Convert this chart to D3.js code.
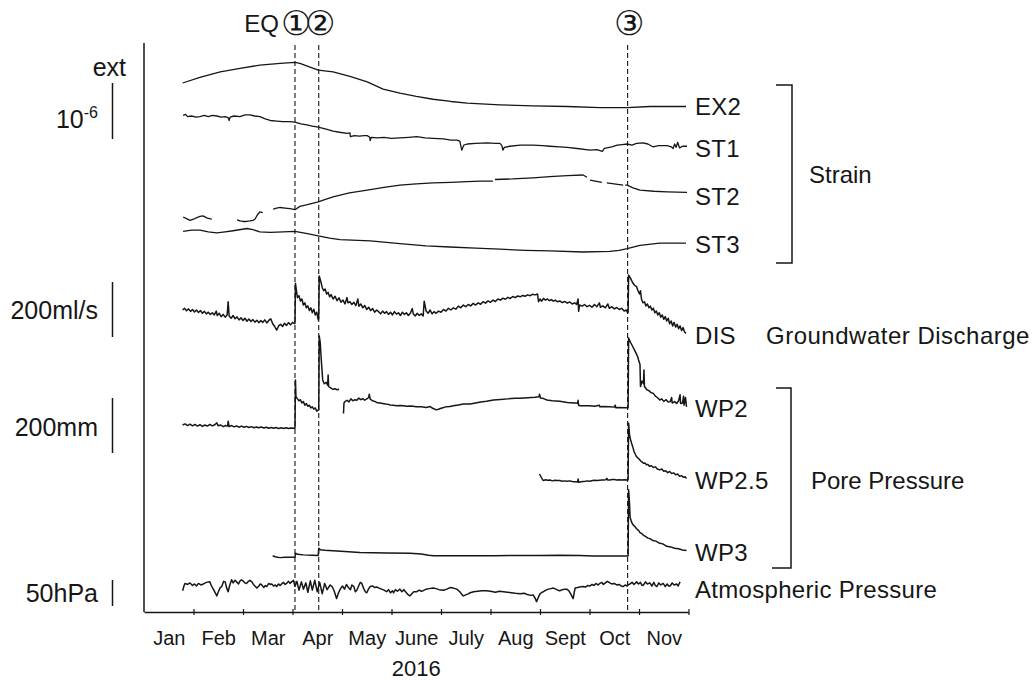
<!DOCTYPE html>
<html>
<head>
<meta charset="utf-8">
<script src="https://cdn.jsdelivr.net/npm/d3@7"></script>
<style>
  body { margin: 0; background: #fff; }
  text { font-family: "Liberation Sans", Arial, sans-serif; fill: #161616; }
</style>
</head>
<body>
<div id="chart"></div>
<script>
// x values: months since 1 Jan 2016 (0 = Jan 1, 11 = Dec 1)
const months = ["Jan", "Feb", "Mar", "Apr", "May", "June", "July", "Aug", "Sept", "Oct", "Nov"];
const events = [{ label: "①", m: 3.05 }, { label: "②", m: 3.53 }, { label: "③", m: 9.77 }];

// strain, in 10^-6, relative to first reading
const ex2 = [[0.78,0],[1.13,0.10],[1.54,0.20],[1.94,0.26],[2.34,0.32],[2.75,0.35],[3.05,0.37],[3.15,0.35],[3.52,0.23],[3.82,0.20],[4.16,0.12],[4.51,0.02],[4.83,-0.11],[5.17,-0.18],[5.50,-0.24],[5.84,-0.29],[6.20,-0.33],[6.53,-0.36],[7.19,-0.39],[7.86,-0.41],[8.55,-0.42],[9.21,-0.44],[9.76,-0.44],[10.22,-0.42],[10.95,-0.42]];

const st1 = [[0.79,0.01],[0.84,0.03],[0.88,-0.01],[0.96,0.00],[1.05,-0.02],[1.13,-0.01],[1.22,0.01],[1.30,-0.01],[1.38,0.01],[1.47,0.00],[1.56,-0.02],[1.64,-0.01],[1.70,-0.03],[1.72,-0.08],[1.74,-0.02],[1.82,0.00],[1.94,-0.01],[2.04,0.02],[2.14,0.02],[2.24,0.00],[2.34,-0.01],[2.45,-0.05],[2.55,-0.08],[2.68,-0.09],[2.81,-0.10],[2.93,-0.10],[3.05,-0.11],[3.17,-0.14],[3.29,-0.16],[3.40,-0.18],[3.52,-0.20],[3.66,-0.23],[3.82,-0.27],[3.95,-0.29],[4.10,-0.31],[4.16,-0.30],[4.17,-0.37],[4.25,-0.35],[4.35,-0.36],[4.45,-0.35],[4.51,-0.35],[4.56,-0.38],[4.57,-0.44],[4.59,-0.38],[4.71,-0.39],[4.85,-0.38],[5.00,-0.40],[5.17,-0.39],[5.35,-0.38],[5.51,-0.37],[5.68,-0.39],[5.84,-0.40],[6.05,-0.41],[6.20,-0.43],[6.32,-0.43],[6.38,-0.45],[6.42,-0.61],[6.46,-0.52],[6.53,-0.50],[6.70,-0.49],[6.93,-0.48],[7.10,-0.49],[7.19,-0.49],[7.23,-0.53],[7.25,-0.61],[7.28,-0.56],[7.39,-0.54],[7.60,-0.52],[7.86,-0.52],[8.05,-0.53],[8.20,-0.54],[8.40,-0.55],[8.55,-0.56],[8.75,-0.58],[9.01,-0.61],[9.15,-0.60],[9.26,-0.63],[9.30,-0.58],[9.45,-0.55],[9.56,-0.52],[9.66,-0.51],[9.76,-0.50],[9.86,-0.52],[9.95,-0.49],[10.08,-0.48],[10.18,-0.50],[10.28,-0.55],[10.40,-0.53],[10.57,-0.53],[10.65,-0.55],[10.69,-0.58],[10.72,-0.50],[10.75,-0.56],[10.78,-0.47],[10.82,-0.57],[10.88,-0.54],[10.97,-0.54]];

// null = gap in the record
const st2 = [[0.79,0],[0.86,-0.03],[0.93,-0.06],[1.00,-0.04],[1.07,-0.01],[1.13,0.01],[1.19,0.02],[1.28,-0.02],[1.37,-0.04], null,
  [1.88,-0.05],[1.94,-0.07],[2.00,-0.08],[2.07,-0.08],[2.14,-0.07],[2.20,-0.06],[2.24,-0.04],[2.30,0.05],[2.34,0.09],[2.40,0.08], null,
  [2.61,0.14],[2.68,0.16],[2.75,0.17],[2.85,0.16],[2.95,0.15],[3.05,0.13],[3.15,0.19],[3.30,0.22],[3.52,0.27],[3.65,0.31],[3.82,0.36],[4.15,0.43],[4.51,0.48],[4.85,0.53],[5.17,0.57],[5.50,0.59],[5.84,0.61],[6.20,0.62],[6.53,0.63],[6.80,0.64],[7.05,0.64], null,
  [7.09,0.67],[7.45,0.68],[7.86,0.70],[8.20,0.72],[8.55,0.74],[8.87,0.75],[8.95,0.71], null,
  [9.01,0.66],[9.25,0.62], null,
  [9.35,0.61],[9.68,0.57], null,
  [9.72,0.57],[9.76,0.57],[9.88,0.52],[10.02,0.48],[10.30,0.46],[10.57,0.45],[10.97,0.44]];

const st3 = [[0.79,0],[0.96,0.02],[1.13,0.02],[1.30,-0.01],[1.47,-0.03],[1.64,-0.01],[1.80,0.01],[2.08,0.05],[2.20,0.03],[2.34,-0.01],[2.55,-0.02],[2.81,-0.01],[3.05,0],[3.30,-0.04],[3.52,-0.08],[3.75,-0.12],[3.96,-0.15],[4.57,-0.17],[5.17,-0.22],[5.70,-0.26],[6.18,-0.28],[6.70,-0.30],[7.19,-0.32],[7.70,-0.34],[8.20,-0.35],[8.87,-0.37],[9.41,-0.36],[9.60,-0.34],[9.76,-0.31],[10.02,-0.25],[10.42,-0.21],[10.95,-0.21]];

// groundwater discharge, ml/s, relative to first reading
const dis = [[0.78,0],[0.82,6],[0.86,-3],[0.90,4],[0.94,-5],[0.98,2],[1.02,-7],[1.06,0],[1.10,-9],[1.14,-2],[1.18,-12],[1.22,-5],[1.26,-14],[1.30,-8],[1.34,-16],[1.38,-10],[1.42,-18],[1.46,-4],[1.48,-20],[1.52,-12],[1.56,-24],[1.60,-16],[1.64,-26],[1.68,-18],[1.70,30],[1.72,-22],[1.76,-30],[1.80,-20],[1.84,-32],[1.88,-25],[1.92,-36],[1.96,-28],[2.00,-38],[2.04,-30],[2.08,-41],[2.12,-33],[2.16,-42],[2.20,-35],[2.24,-44],[2.28,-37],[2.32,-46],[2.36,-38],[2.40,-45],[2.44,-36],[2.48,-47],[2.52,-38],[2.56,-32],[2.60,-50],[2.64,-60],[2.68,-73],[2.72,-58],[2.76,-52],[2.80,-60],[2.84,-48],[2.88,-56],[2.92,-46],[2.96,-54],[3.00,-45],[3.04,-50],
  [3.05,-48],[3.06,97],[3.08,70],[3.10,45],[3.13,52],[3.16,33],[3.19,40],[3.22,18],[3.25,26],[3.28,8],[3.31,15],[3.34,-2],[3.37,8],[3.40,-10],[3.43,3],[3.46,-18],[3.49,-8],[3.52,-36],
  [3.53,-30],[3.54,124],[3.57,105],[3.60,82],[3.63,70],[3.66,76],[3.69,58],[3.72,64],[3.75,48],[3.78,56],[3.82,40],[3.86,50],[3.90,34],[3.94,44],[3.98,28],[4.02,36],[4.06,22],[4.10,45],[4.12,26],[4.16,30],[4.20,20],[4.24,28],[4.28,16],[4.32,40],[4.34,14],[4.38,22],[4.42,8],[4.46,16],[4.50,2],[4.54,10],[4.58,-2],[4.62,5],[4.66,-8],[4.70,0],[4.74,-6],[4.78,-14],[4.82,-4],[4.86,-12],[4.90,-6],[4.94,-16],[4.98,-8],[5.02,-18],[5.06,-6],[5.10,-15],[5.14,-10],[5.18,-20],[5.22,-8],[5.26,-16],[5.30,-10],[5.34,-20],[5.38,-12],[5.42,5],[5.44,-14],[5.48,-22],[5.52,-12],[5.56,-20],[5.60,-14],[5.64,-22],[5.66,32],[5.70,-4],[5.74,-12],[5.78,0],[5.82,-14],[5.86,-6],[5.90,-12],[5.95,-4],[6.00,-8],[6.05,2],[6.10,-4],[6.15,6],[6.20,0],[6.25,8],[6.30,3],[6.35,14],[6.40,8],[6.45,18],[6.50,12],[6.55,20],[6.60,15],[6.65,24],[6.70,18],[6.75,26],[6.80,21],[6.85,30],[6.90,25],[6.95,33],[7.00,28],[7.05,36],[7.10,31],[7.15,40],[7.20,36],[7.25,43],[7.30,39],[7.35,46],[7.40,42],[7.45,49],[7.50,45],[7.55,51],[7.60,48],[7.65,53],[7.70,50],[7.75,55],[7.80,52],[7.85,57],[7.90,55],[7.95,58],
  [7.97,30],[8.00,40],[8.03,32],[8.07,42],[8.11,36],[8.15,40],[8.19,34],[8.23,38],[8.27,32],[8.31,36],[8.35,30],[8.40,33],[8.45,27],[8.50,31],[8.55,25],[8.60,29],[8.65,22],[8.70,26],[8.74,20],[8.77,40],[8.78,-5],[8.80,18],[8.85,14],[8.90,20],[8.95,12],[9.00,17],[9.05,10],[9.10,20],[9.15,12],[9.20,26],[9.22,10],[9.27,15],[9.32,8],[9.37,22],[9.40,6],[9.45,12],[9.50,4],[9.55,9],[9.60,2],[9.65,6],[9.70,-4],[9.74,0],[9.77,-10],
  [9.78,-8],[9.79,127],[9.83,115],[9.87,100],[9.91,90],[9.95,85],[9.98,70],[10.01,58],[10.03,70],[10.05,40],[10.08,26],[10.11,30],[10.14,15],[10.17,22],[10.20,8],[10.23,14],[10.26,0],[10.29,6],[10.32,-10],[10.35,-4],[10.38,-18],[10.41,-10],[10.44,-26],[10.47,-18],[10.50,-34],[10.53,-24],[10.56,-40],[10.59,-30],[10.62,-50],[10.65,-40],[10.68,-58],[10.71,-45],[10.74,-62],[10.77,-52],[10.80,-68],[10.83,-58],[10.86,-75],[10.89,-64],[10.92,-80],[10.95,-85]];

// pore pressure, mm of water, relative to first reading
const wp2 = [[0.78,0],[0.83,4],[0.88,-2],[0.93,3],[0.98,-3],[1.03,2],[1.08,-4],[1.13,1],[1.18,-5],[1.23,0],[1.28,-4],[1.33,2],[1.38,-3],[1.43,1],[1.47,8],[1.50,-3],[1.55,0],[1.60,-6],[1.65,-2],[1.69,-4],[1.70,14],[1.72,-6],[1.77,-2],[1.82,-7],[1.87,-3],[1.92,-8],[1.97,-4],[2.02,-8],[2.07,-5],[2.12,-9],[2.17,-6],[2.22,-10],[2.27,-7],[2.32,-10],[2.37,-7],[2.42,-11],[2.47,-8],[2.52,-12],[2.57,-9],[2.62,-12],[2.67,-9],[2.72,-13],[2.77,-10],[2.82,-13],[2.87,-10],[2.92,-13],[2.97,-11],[3.04,-12],
  [3.05,-12],[3.06,164],[3.07,103],[3.10,95],[3.13,88],[3.16,92],[3.19,80],[3.22,85],[3.25,72],[3.28,78],[3.31,68],[3.34,72],[3.37,62],[3.40,66],[3.43,58],[3.46,62],[3.49,50],[3.52,55],
  [3.53,55],[3.54,324],[3.56,300],[3.58,240],[3.61,164],[3.64,150],[3.68,155],[3.71,145],[3.72,182],[3.73,140],[3.77,135],[3.81,130],[3.86,132],[3.90,128],[3.94,130], null,
  [4.03,42],[4.04,80],[4.06,85],[4.10,90],[4.14,84],[4.18,95],[4.22,88],[4.26,92],[4.30,90],[4.34,98],[4.38,92],[4.42,96],[4.46,90],[4.50,95],[4.54,100],[4.55,112],[4.57,94],[4.62,88],[4.66,86],[4.70,82],[4.76,80],[4.82,78],[4.88,76],[4.94,75],[4.97,73],[5.04,72],[5.10,70],[5.17,71],[5.24,70],[5.30,68],[5.40,69],[5.50,66],[5.60,66],[5.70,64],[5.78,67],[5.84,60],[5.91,55],[5.96,58],[6.02,62],[6.10,66],[6.18,67],[6.25,70],[6.35,73],[6.45,76],[6.59,76],[6.70,80],[6.80,84],[6.92,86],[7.06,91],[7.20,93],[7.35,95],[7.50,97],[7.60,97],[7.75,99],[7.90,101],[7.98,103],[7.99,112],[8.01,98],[8.07,96],[8.14,91],[8.25,88],[8.40,86],[8.55,82],[8.70,80],[8.76,79],[8.77,90],[8.78,72],[8.81,70],[8.90,70],[9.00,70],[9.10,68],[9.20,72],[9.21,66],[9.28,67],[9.40,66],[9.50,65],[9.52,72],[9.53,63],[9.60,64],[9.70,63],[9.77,63],
  [9.78,63],[9.79,316],[9.83,300],[9.86,290],[9.89,279],[9.93,265],[9.97,250],[9.99,237],[10.02,220],[10.03,140],[10.06,160],[10.09,150],[10.10,200],[10.11,140],[10.16,128],[10.20,125],[10.24,118],[10.29,115],[10.33,105],[10.37,100],[10.42,91],[10.46,95],[10.50,86],[10.55,92],[10.59,84],[10.63,85],[10.66,100],[10.67,80],[10.72,85],[10.76,78],[10.80,88],[10.83,110],[10.84,78],[10.88,80],[10.90,105],[10.91,72],[10.94,100],[10.96,66]];

const wp25 = [[7.99,0],[8.02,-10],[8.05,-20],[8.07,-24],[8.11,-21],[8.15,-23],[8.20,-22],[8.25,-25],[8.30,-23],[8.35,-24],[8.40,-24],[8.45,-26],[8.50,-25],[8.55,-26],[8.60,-25],[8.65,-27],[8.70,-28],[8.76,-29],[8.77,-18],[8.78,-30],[8.83,-28],[8.87,-27],[8.92,-26],[8.95,-25],[9.01,-26],[9.06,-24],[9.10,-23],[9.15,-24],[9.20,-23],[9.25,-22],[9.28,-22],[9.33,-21],[9.35,-16],[9.37,-22],[9.41,-22],[9.46,-20],[9.50,-20],[9.55,-22],[9.60,-21],[9.65,-22],[9.70,-21],[9.77,-22],
  [9.78,-20],[9.79,185],[9.81,140],[9.83,125],[9.85,112],[9.88,95],[9.90,82],[9.93,70],[9.95,63],[9.98,58],[10.00,55],[10.03,48],[10.06,44],[10.09,39],[10.12,40],[10.15,34],[10.18,35],[10.21,28],[10.25,30],[10.29,24],[10.33,26],[10.37,18],[10.42,15],[10.46,18],[10.50,10],[10.54,12],[10.58,5],[10.62,9],[10.66,2],[10.70,4],[10.74,-3],[10.78,0],[10.82,-8],[10.86,-6],[10.90,-12],[10.93,-10],[10.96,-16]];

const wp3 = [[2.60,0],[2.65,-4],[2.70,-6],[2.75,-7],[2.85,-6],[2.95,-6],[3.05,-6],[3.06,9],[3.10,5],[3.22,3],[3.40,2],[3.52,1],[3.53,27],[3.56,22],[3.65,20],[3.90,17],[4.36,12],[4.90,10],[5.37,9],[5.60,6],[5.75,2],[5.85,0],[6.50,0],[7.06,0],[7.60,1],[8.00,1],[8.40,2],[8.80,1],[9.07,-1],[9.40,-1],[9.77,-1],
  [9.78,0],[9.79,240],[9.80,215],[9.81,185],[9.82,140],[9.85,122],[9.88,112],[9.92,105],[9.95,98],[9.99,92],[10.02,84],[10.06,80],[10.09,74],[10.13,70],[10.18,64],[10.22,62],[10.28,55],[10.34,53],[10.42,45],[10.48,43],[10.56,34],[10.64,32],[10.72,27],[10.80,25],[10.88,21],[10.96,19]];

// atmospheric pressure, hPa, relative to first reading
const atm = [[0.78,0],[0.81,10],[0.83,14],[0.88,12],[0.93,15],[0.98,10],[1.02,13],[1.06,9],[1.10,14],[1.15,11],[1.20,13],[1.26,16],[1.33,17],[1.36,10],[1.40,3],[1.44,-4],[1.47,-10],[1.51,0],[1.54,6],[1.57,8],[1.61,18],[1.64,17],[1.67,5],[1.70,-2],[1.73,10],[1.77,21],[1.80,15],[1.84,20],[1.87,17],[1.91,13],[1.94,19],[1.97,21],[2.01,18],[2.04,15],[2.07,14],[2.11,18],[2.14,20],[2.18,17],[2.21,12],[2.25,8],[2.28,5],[2.32,9],[2.35,13],[2.38,11],[2.42,6],[2.45,10],[2.48,8],[2.52,14],[2.55,12],[2.58,13],[2.62,9],[2.65,11],[2.68,8],[2.72,13],[2.75,10],[2.78,13],[2.82,16],[2.85,12],[2.88,14],[2.92,18],[2.95,14],[2.98,17],[3.02,20],[3.05,8],[3.09,18],[3.13,1],[3.18,17],[3.22,3],[3.27,15],[3.31,-3],[3.36,19],[3.40,1],[3.45,20],[3.50,-2],[3.55,16],[3.60,-6],[3.65,14],[3.70,2],[3.76,11],[3.80,8],[3.84,0],[3.89,-15],[3.93,-4],[3.97,4],[4.01,9],[4.05,3],[4.09,12],[4.13,6],[4.17,2],[4.20,11],[4.24,8],[4.27,-2],[4.30,1],[4.34,10],[4.37,16],[4.40,14],[4.44,4],[4.47,-2],[4.50,-4],[4.54,4],[4.57,8],[4.62,9],[4.66,6],[4.70,7],[4.75,5],[4.80,3],[4.85,1],[4.90,-2],[4.94,2],[4.98,-4],[5.02,0],[5.04,-4],[5.08,2],[5.12,-1],[5.17,3],[5.21,-2],[5.25,2],[5.30,-4],[5.34,-8],[5.37,-10],[5.41,-6],[5.45,-2],[5.51,-2],[5.56,1],[5.60,-1],[5.64,0],[5.70,3],[5.76,4],[5.84,5],[5.90,4],[5.96,2],[6.05,1],[6.12,3],[6.18,6],[6.25,5],[6.32,3],[6.38,-2],[6.42,-7],[6.45,-10],[6.50,-8],[6.55,-6],[6.59,-4],[6.66,-2],[6.74,-1],[6.82,0],[6.92,0],[7.00,-1],[7.10,-3],[7.18,-1],[7.26,-2],[7.34,-3],[7.42,-4],[7.50,-5],[7.60,-6],[7.68,-5],[7.76,-8],[7.82,-9],[7.86,-8],[7.90,-14],[7.93,-21],[7.97,-12],[8.00,-6],[8.04,-3],[8.07,-2],[8.12,1],[8.17,3],[8.22,4],[8.27,5],[8.32,3],[8.36,1],[8.40,0],[8.45,2],[8.50,3],[8.54,3],[8.58,0],[8.62,-6],[8.65,-12],[8.67,-15],[8.69,-4],[8.71,5],[8.76,6],[8.80,7],[8.87,8],[8.92,7],[8.96,10],[9.01,9],[9.05,12],[9.09,10],[9.13,14],[9.17,11],[9.21,14],[9.25,16],[9.28,12],[9.32,15],[9.36,18],[9.41,15],[9.45,13],[9.50,14],[9.55,11],[9.60,12],[9.64,9],[9.68,8],[9.72,11],[9.76,9],[9.79,12],[9.82,13],[9.86,16],[9.90,12],[9.95,17],[9.99,13],[10.03,16],[10.06,10],[10.09,11],[10.13,17],[10.17,13],[10.22,15],[10.26,9],[10.30,16],[10.33,10],[10.36,8],[10.40,15],[10.44,11],[10.49,14],[10.53,8],[10.57,13],[10.60,9],[10.63,9],[10.67,15],[10.71,11],[10.76,13],[10.79,9],[10.83,17]];

// scale-bar size of each quantity and how tall that bar is drawn
const units = {
  strain: { bar: 1,   px: 56 },
  flow:   { bar: 200, px: 55 },
  pore:   { bar: 200, px: 55 },
  atm:    { bar: 50,  px: 26 }
};

const traces = [
  { name: "EX2",   data: ex2,  unit: "strain", base: 83,    labelY: 115 },
  { name: "ST1",   data: st1,  unit: "strain", base: 116,   labelY: 157 },
  { name: "ST2",   data: st2,  unit: "strain", base: 217,   labelY: 205 },
  { name: "ST3",   data: st3,  unit: "strain", base: 231.3, labelY: 253 },
  { name: "DIS",   data: dis,  unit: "flow",   base: 310,   labelY: 344 },
  { name: "WP2",   data: wp2,  unit: "pore",   base: 425,   labelY: 417 },
  { name: "WP2.5", data: wp25, unit: "pore",   base: 474,   labelY: 489 },
  { name: "WP3",   data: wp3,  unit: "pore",   base: 555.7, labelY: 561 },
  { name: "Atmospheric Pressure", data: atm, unit: "atm", base: 590.7, labelY: 598 }
];

const bars = [
  { unit: "strain", bottom: 139, text: "10", sup: "-6", textY: 128 },
  { unit: "flow",   bottom: 337, text: "200ml/s", textY: 319 },
  { unit: "pore",   bottom: 453, text: "200mm",   textY: 436 },
  { unit: "atm",    bottom: 606, text: "50hPa",   textY: 602 }
];

const yFor = (unit, base) => d3.scaleLinear()
  .domain([0, units[unit].bar])
  .range([base, base - units[unit].px]);

const svg = d3.select("#chart")
  .append("svg")
  .attr("width", 1034)
  .attr("height", 682);

const x = d3.scaleLinear().domain([0, 11]).range([144, 688.5]);
const axisY = 612;
const ink = "#161616";

// axes
svg.append("line")
  .attr("x1", x(0)).attr("x2", x(0))
  .attr("y1", 43).attr("y2", axisY)
  .attr("stroke", ink).attr("stroke-width", 1.5);

const xAxis = svg.append("g")
  .attr("transform", `translate(0,${axisY})`)
  .call(d3.axisBottom(x).tickValues(d3.range(1, 12)).tickSize(3).tickSizeOuter(0).tickFormat(""));
xAxis.select(".domain").attr("stroke", ink).attr("stroke-width", 1.5);
xAxis.selectAll(".tick line").attr("y1", -3).attr("stroke", ink).attr("stroke-width", 1.2);

const monthAxis = svg.append("g")
  .attr("transform", `translate(0,${axisY})`)
  .call(d3.axisBottom(x).tickValues(d3.range(0.5, 11)).tickSize(0).tickPadding(19)
    .tickFormat((d, i) => months[i]));
monthAxis.select(".domain").remove();
monthAxis.selectAll("text")
  .attr("font-family", '"Liberation Sans", Arial, sans-serif')
  .attr("font-size", 20)
  .attr("fill", ink);

svg.append("text")
  .attr("x", (x(0) + x(11)) / 2)
  .attr("y", 676)
  .attr("text-anchor", "middle")
  .attr("font-size", 22)
  .text("2016");

// earthquake markers
svg.selectAll(".event")
  .data(events)
  .join("line")
  .attr("x1", d => x(d.m)).attr("x2", d => x(d.m))
  .attr("y1", 45).attr("y2", axisY)
  .attr("stroke", ink).attr("stroke-width", 1.1)
  .attr("stroke-dasharray", "5,3");

// one text run, each circled number placed over its own line
svg.append("text")
  .attr("x", events.map(d => x(d.m) + 1).join(" "))
  .attr("y", 35)
  .attr("text-anchor", "middle")
  .attr("font-family", '"Noto Sans CJK JP", sans-serif')
  .attr("font-weight", 300)
  .attr("font-size", 34)
  .text(events.map(d => d.label).join(""));

svg.append("text")
  .attr("x", 279).attr("y", 32)
  .attr("text-anchor", "end")
  .attr("font-size", 24)
  .text("EQ");

// traces
const line = d3.line()
  .defined(d => d !== null)
  .x(d => x(d[0]));

traces.forEach(t => {
  const y = yFor(t.unit, t.base);
  svg.append("path")
    .datum(t.data)
    .attr("fill", "none")
    .attr("stroke", ink)
    .attr("stroke-width", t.unit === "strain" ? 1.3 : 1.5)
    .attr("stroke-linejoin", "round")
    .attr("d", line.y(d => y(d[1])));

  svg.append("text")
    .attr("x", 695)
    .attr("y", t.labelY)
    .attr("font-size", 24)
    .attr("letter-spacing", 0.3)
    .text(t.name);
});

// scale bars
svg.append("text")
  .attr("x", 126).attr("y", 76)
  .attr("text-anchor", "end")
  .attr("font-size", 25)
  .text("ext");

bars.forEach(b => {
  const y = yFor(b.unit, b.bottom);
  svg.append("line")
    .attr("x1", 112.5).attr("x2", 112.5)
    .attr("y1", y(0)).attr("y2", y(units[b.unit].bar))
    .attr("stroke", ink).attr("stroke-width", 1.5);
  const label = svg.append("text")
    .attr("x", 98).attr("y", b.textY)
    .attr("text-anchor", "end")
    .attr("font-size", 25)
    .text(b.text);
  if (b.sup) {
    label.append("tspan").attr("dy", -10).attr("font-size", 16).text(b.sup);
  }
});

// group brackets
svg.append("path")
  .attr("d", "M776,85H792V263H776")
  .attr("fill", "none").attr("stroke", ink).attr("stroke-width", 1.5);
svg.append("path")
  .attr("d", "M776,388H791V568H772")
  .attr("fill", "none").attr("stroke", ink).attr("stroke-width", 1.5);

svg.append("text").attr("x", 809).attr("y", 183).attr("font-size", 24).text("Strain");
svg.append("text").attr("x", 766).attr("y", 344).attr("font-size", 24).attr("letter-spacing", 0.5).text("Groundwater Discharge");
svg.append("text").attr("x", 811).attr("y", 489).attr("font-size", 24).text("Pore Pressure");
</script>
</body>
</html>
